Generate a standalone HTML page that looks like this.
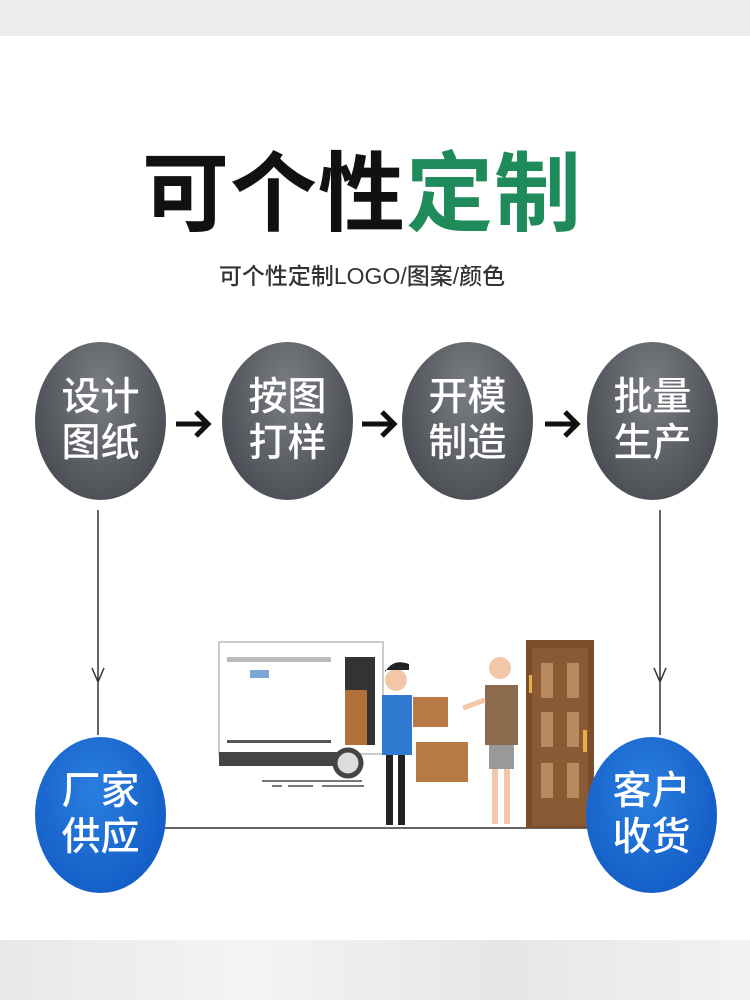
<!DOCTYPE html>
<html><head><meta charset="utf-8"><style>
body{margin:0;width:750px;height:1000px;position:relative;background:#fff;font-family:"Liberation Sans","Noto Sans CJK SC",sans-serif;overflow:hidden}
.a{position:absolute}
.c{position:absolute;width:131px;height:158px;border-radius:50%;background:radial-gradient(ellipse at 50% 30%,#7a7d82,#4f5258 70%,#3c3f44);color:#fff;font-size:39px;line-height:46px;text-align:center;display:flex;align-items:center;justify-content:center;font-weight:500}
.b{background:radial-gradient(ellipse at 45% 35%,#2a7ee0,#1560c8 70%,#0d4fae)}
</style></head><body>
<div class="a" style="left:0;top:0;width:750px;height:36px;background:#ececec"></div>
<div class="a" style="left:0;top:940px;width:750px;height:60px;background:linear-gradient(90deg,#e8e8e8,#f4f4f4,#e6e6e6,#f2f2f2)"></div>
<div class="a" style="left:142px;top:140px;font-size:87px;font-weight:bold;line-height:110px;letter-spacing:1px;white-space:nowrap"><span style="color:#111">可个性</span><span style="color:#1f8a5a">定制</span></div>
<div class="a" style="left:0;width:750px;text-align:center;top:257px;font-size:23px;color:#333;font-weight:500;padding-left:-30px"><span style="position:relative;left:-13px">可个性定制LOGO/图案/颜色</span></div>

<div class="c" style="left:35px;top:342px">设计<br>图纸</div>
<div class="c" style="left:222px;top:342px">按图<br>打样</div>
<div class="c" style="left:402px;top:342px">开模<br>制造</div>
<div class="c" style="left:587px;top:342px">批量<br>生产</div>
<svg class="a" style="left:0;top:0" width="750" height="1000">
<g stroke="#111" stroke-width="5" fill="none">
<path d="M176 424h32M196 412l12 12-12 12"/>
<path d="M362 424h32M382 412l12 12-12 12"/>
<path d="M545 424h32M565 412l12 12-12 12"/>
</g>
<g stroke="#333" stroke-width="1.5" fill="none">
<path d="M98 510V735M92 668l6 14 6-14"/>
<path d="M660 510V735M654 668l6 14 6-14"/>
<path d="M165 828H590"/>
</g>
<rect x="219" y="642" width="164" height="112" fill="#fff" stroke="#ccc" stroke-width="2"/>
<rect x="227" y="657" width="104" height="5" fill="#bbb"/>
<rect x="250" y="670" width="19" height="8" fill="#7aa7d8"/>
<rect x="227" y="740" width="104" height="3" fill="#555"/>
<rect x="345" y="657" width="30" height="88" fill="#333"/>
<rect x="345" y="690" width="22" height="55" fill="#b0723a"/>
<rect x="219" y="752" width="140" height="14" fill="#444"/>
<circle cx="348" cy="763" r="13" fill="#ddd" stroke="#444" stroke-width="5"/>
<path d="M262 781h100M272 786h10M288 786h25M322 786h42" stroke="#777" stroke-width="2"/>
<rect x="382" y="695" width="30" height="60" fill="#2f7ad0"/>
<rect x="386" y="755" width="7" height="70" fill="#222"/><rect x="398" y="755" width="7" height="70" fill="#222"/>
<circle cx="396" cy="680" r="11" fill="#f2c8a8"/><path d="M385 672q8-14 24-8v6h-24z" fill="#222"/>
<rect x="413" y="697" width="35" height="30" fill="#b77a44"/>
<rect x="416" y="742" width="52" height="40" fill="#b77a44"/>
<rect x="485" y="685" width="33" height="60" fill="#8b6a4e"/>
<rect x="489" y="745" width="25" height="24" fill="#999"/>
<rect x="492" y="769" width="6" height="55" fill="#f2c8a8"/><rect x="504" y="769" width="6" height="55" fill="#f2c8a8"/>
<circle cx="500" cy="668" r="11" fill="#f2c8a8"/>
<path d="M485 700l-22 8" stroke="#f2c8a8" stroke-width="5"/>
<rect x="526" y="640" width="68" height="188" fill="#7a4d2b"/>
<rect x="532" y="648" width="56" height="178" fill="#8a5a34"/>
<g fill="#b98a5f"><rect x="541" y="663" width="12" height="35"/><rect x="567" y="663" width="12" height="35"/><rect x="541" y="712" width="12" height="35"/><rect x="567" y="712" width="12" height="35"/><rect x="541" y="763" width="12" height="35"/><rect x="567" y="763" width="12" height="35"/></g>
<rect x="529" y="675" width="3" height="18" fill="#e8b04a"/><rect x="583" y="730" width="4" height="22" fill="#e8b04a"/>
</svg>
<div class="c b" style="left:35px;top:737px;height:156px">厂家<br>供应</div>
<div class="c b" style="left:586px;top:737px;height:156px">客户<br>收货</div>
</body></html>
